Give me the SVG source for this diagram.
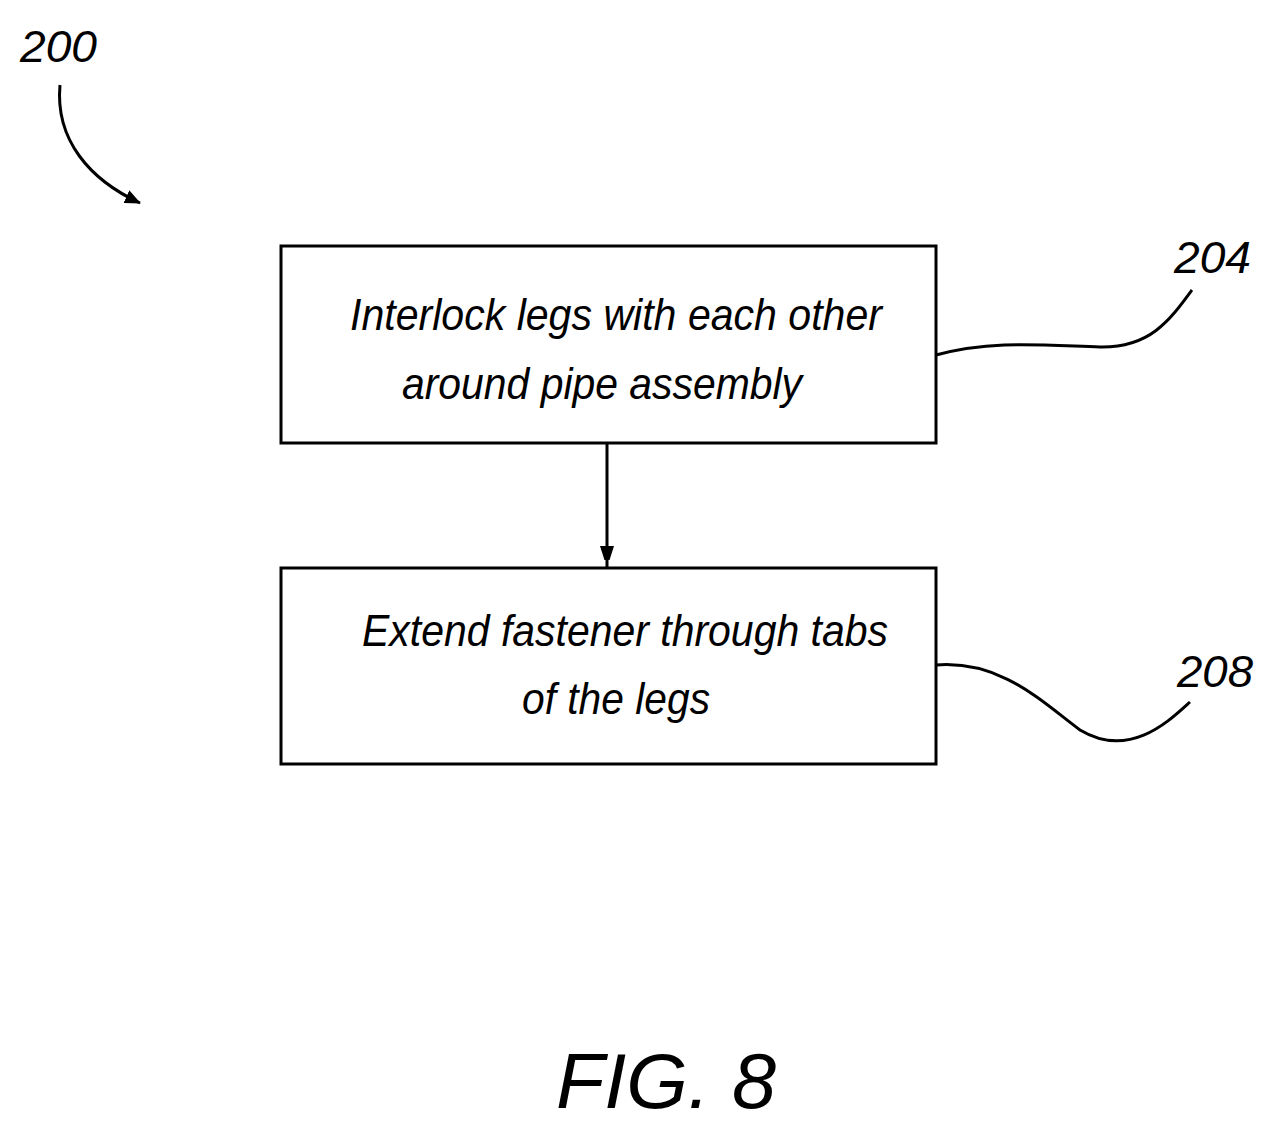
<svg xmlns="http://www.w3.org/2000/svg" width="1274" height="1130" viewBox="0 0 1274 1130">
<style>
.box{fill:#fff;stroke:#000;stroke-width:3}
.t{font-family:"Liberation Sans",Arial,sans-serif;font-style:italic;font-size:44px;fill:#000}
.ln{fill:none;stroke:#000;stroke-width:3}
</style>
<defs><marker id="ah" markerWidth="14" markerHeight="22" refX="21" refY="7" orient="auto" markerUnits="userSpaceOnUse"><path d="M0,0 L22,7 L0,14 Z" fill="#000"/></marker>
<marker id="ah2" markerWidth="16" markerHeight="14" refX="15" refY="7" orient="auto" markerUnits="userSpaceOnUse"><path d="M0,0 L16,7 L0,14 Z" fill="#000"/></marker></defs>
<rect width="1274" height="1130" fill="#fff"/>
<text class="t" x="20" y="62" textLength="77" lengthAdjust="spacingAndGlyphs">200</text>
<g id="n204"><rect class="box" x="281" y="246" width="655" height="197"/>
<text class="t" x="350" y="330" textLength="532" lengthAdjust="spacingAndGlyphs">Interlock legs with each other</text>
<text class="t" x="402" y="399" textLength="400" lengthAdjust="spacingAndGlyphs">around pipe assembly</text></g>
<g id="n208"><rect class="box" x="281" y="568" width="655" height="196"/>
<text class="t" x="362" y="646" textLength="526" lengthAdjust="spacingAndGlyphs">Extend fastener through tabs</text>
<text class="t" x="522" y="714" textLength="188" lengthAdjust="spacingAndGlyphs">of the legs</text></g>
<text class="t" x="1174" y="273" textLength="77" lengthAdjust="spacingAndGlyphs">204</text>
<text class="t" x="1177" y="687" textLength="76" lengthAdjust="spacingAndGlyphs">208</text>
<text x="556" y="1108" font-family="Liberation Sans,Arial,sans-serif" font-style="italic" font-size="78" textLength="220" lengthAdjust="spacingAndGlyphs">FIG. 8</text>
<g id="connectors">
<path class="ln" d="M607,443 L607,567" marker-end="url(#ah)"/>
<path class="ln" d="M936,355 C990,340 1040,345 1100,347 C1150,348 1170,320 1192,290"/>
<path class="ln" d="M936,665 C1000,660 1040,700 1080,730 C1130,760 1170,720 1190,702"/>
<path class="ln" d="M60,85 C55,140 90,180 140,203" marker-end="url(#ah2)"/>
</g>
</svg>
